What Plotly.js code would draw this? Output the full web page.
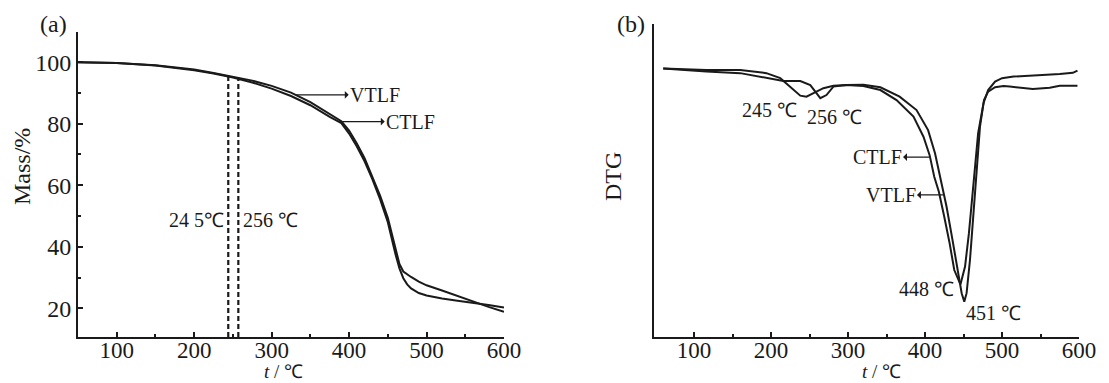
<!DOCTYPE html>
<html>
<head>
<meta charset="utf-8">
<script src="https://cdn.plot.ly/plotly-3.0.1.min.js"></script>
<style>html,body{margin:0;padding:0;background:#fff;}#chart{width:1109px;height:383px;}</style>
</head>
<body>
<div id="chart"></div>
<script>
// ---- Panel (a): TG curves ----
const tgTemp = [50, 100, 150, 200, 225, 250, 275, 300, 325, 350, 375, 390, 400, 410, 420, 430, 440, 450, 460, 465, 470, 475, 480, 490, 500, 520, 540, 560, 580, 600];
const tgVTLF = [100.0, 99.7, 99.0, 97.6, 96.5, 95.3, 94.0, 92.3, 90.1, 87.0, 83.3, 80.8, 77.8, 73.6, 68.8, 62.8, 56.6, 49.4, 39.2, 34.4, 32.0, 31.0, 30.2, 28.7, 27.5, 25.8, 24.0, 22.1, 20.5, 18.9];
const tgCTLF = [100.0, 99.7, 98.9, 97.4, 96.3, 95.0, 93.4, 91.4, 89.0, 86.0, 82.2, 80.2, 76.8, 72.6, 67.8, 62.0, 55.5, 48.0, 37.5, 33.0, 29.8, 27.8, 26.5, 25.0, 24.2, 23.2, 22.5, 21.9, 21.1, 20.3];
const dashTemp = [244, 257];
const dashTop = [95.6, 95.0];
const tgTicks = [100, 200, 300, 400, 500, 600];
const tgMinorTicks = [150, 250, 350, 450, 550];
const massTicks = [20, 40, 60, 80, 100];
const massMinorTicks = [30, 50, 70, 90];

// ---- Panel (b): DTG curves (arbitrary units) ----
const dtgTempCTLF = [60, 116, 160, 194, 212, 225, 238, 246, 255, 268, 281, 298, 320, 342, 363, 385, 398, 406, 412, 418, 425, 432, 438, 446, 452, 457, 463, 469, 476, 482, 491, 500, 515, 540, 558, 575, 592, 598];
const dtgCTLF = [85.8, 85.3, 85.3, 84.3, 82.7, 80.0, 77.1, 76.8, 77.9, 79.5, 80.3, 80.5, 80.2, 78.9, 75.7, 70.4, 64.0, 58.1, 51.2, 46.4, 38.4, 29.9, 21.4, 16.8, 22.5, 33.1, 49.1, 65.1, 74.7, 78.9, 81.6, 82.7, 83.2, 83.5, 83.7, 84.0, 84.4, 85.1];
const dtgTempVTLF = [60, 116, 160, 194, 216, 238, 251, 259, 264, 272, 281, 298, 320, 342, 367, 389, 404, 413, 424, 428, 435, 441, 447.6, 451, 454, 458.4, 462.7, 467, 471.4, 476.6, 482, 491, 502, 510, 525, 540, 562, 575, 598];
const dtgVTLF = [85.8, 84.8, 84.3, 82.7, 81.8, 81.8, 80.5, 77.9, 76.3, 77.3, 80.0, 80.5, 80.6, 79.8, 76.8, 72.5, 66.1, 58.7, 46.4, 41.6, 32.0, 23.5, 14.0, 11.3, 14.0, 24.6, 38.4, 54.4, 67.2, 75.7, 78.4, 79.8, 80.2, 80.0, 79.5, 79.2, 79.6, 80.3, 80.3];

const FONT = 'Liberation Serif, Times New Roman, serif';
const INK = '#1a1a1a';
const W = 1109, H = 383;
const px = v => v / W;
const py = v => 1 - v / H;

const line = {color: INK, width: 2};
const traces = [
  {x: tgTemp, y: tgVTLF, name: 'VTLF', mode: 'lines', line: line, xaxis: 'x', yaxis: 'y', hoverinfo: 'skip'},
  {x: tgTemp, y: tgCTLF, name: 'CTLF', mode: 'lines', line: line, xaxis: 'x', yaxis: 'y', hoverinfo: 'skip'}
];
dashTemp.forEach((t, i) => {
  traces.push({x: [t, t], y: [10.7, dashTop[i]], mode: 'lines', line: {color: INK, width: 2.2, dash: '5px,3px'}, xaxis: 'x', yaxis: 'y', hoverinfo: 'skip'});
});
traces.push({x: dtgTempCTLF, y: dtgCTLF, name: 'CTLF', mode: 'lines', line: line, xaxis: 'x2', yaxis: 'y2', hoverinfo: 'skip'});
traces.push({x: dtgTempVTLF, y: dtgVTLF, name: 'VTLF', mode: 'lines', line: line, xaxis: 'x2', yaxis: 'y2', hoverinfo: 'skip'});

const tickFont = {family: FONT, size: 23, color: INK};
const xBase = {
  tickmode: 'array', tickvals: tgTicks, ticks: 'inside', ticklen: 5, tickwidth: 2, tickcolor: INK,
  showline: true, linecolor: INK, linewidth: 2, showgrid: false, zeroline: false,
  tickfont: tickFont, ticklabelstandoff: -9,
  minor: {tickmode: 'array', tickvals: tgMinorTicks, ticks: 'inside', ticklen: 3, tickwidth: 2, tickcolor: INK, showgrid: false}
};

const lab = (text, x, y, xref, yref, opts) => Object.assign({text: text, x: x, y: y, xref: xref, yref: yref, showarrow: false, xanchor: 'center', yanchor: 'middle', font: {family: FONT, size: 20, color: INK}}, opts || {});

const arrowStyle = {showarrow: true, arrowside: 'start', arrowhead: 2, arrowsize: 1.1, arrowwidth: 1.3, arrowcolor: INK, borderpad: 0, yanchor: 'middle', font: {family: FONT, size: 20, color: INK}};

const annotations = [
  lab('(a)', px(53), py(24), 'paper', 'paper', {font: {family: FONT, size: 24, color: INK}}),
  lab('(b)', px(631), py(24), 'paper', 'paper', {font: {family: FONT, size: 24, color: INK}}),
  lab('Mass/%', px(22), py(167), 'paper', 'paper', {textangle: -90, font: {family: FONT, size: 24, color: INK}}),
  lab('DTG', px(613), py(177), 'paper', 'paper', {textangle: -90, font: {family: FONT, size: 24, color: INK}}),
  lab('<i>t</i> / ℃', px(283), py(383), 'paper', 'paper', {yanchor: 'bottom', borderpad: 0, font: {family: FONT, size: 19, color: INK}}),
  lab('<i>t</i> / ℃', px(881), py(383), 'paper', 'paper', {yanchor: 'bottom', borderpad: 0, font: {family: FONT, size: 19, color: INK}}),
  lab('24 5℃', 241, 48.8, 'x', 'y', {xanchor: 'right'}),
  lab('256 ℃', 261, 48.8, 'x', 'y', {xanchor: 'left'}),
  lab('245 ℃', 198.6, 72.5, 'x2', 'y2'),
  lab('256 ℃', 283, 70.3, 'x2', 'y2'),
  lab('448 ℃', 401.9, 15.3, 'x2', 'y2'),
  lab('451 ℃', 488.9, 7.7, 'x2', 'y2'),
  // arrows
  Object.assign({text: 'VTLF', x: 331.6, y: 89.4, ax: 399.5, ay: 89.4, xref: 'x', yref: 'y', axref: 'x', ayref: 'y', xanchor: 'left'}, arrowStyle),
  Object.assign({text: 'CTLF', x: 387.6, y: 80.7, ax: 446, ay: 80.7, xref: 'x', yref: 'y', axref: 'x', ayref: 'y', xanchor: 'left'}, arrowStyle),
  Object.assign({text: 'CTLF', x: 406, y: 57.5, ax: 371.5, ay: 57.5, xref: 'x2', yref: 'y2', axref: 'x2', ayref: 'y2', xanchor: 'right'}, arrowStyle),
  Object.assign({text: 'VTLF', x: 423.3, y: 45.4, ax: 389.6, ay: 45.4, xref: 'x2', yref: 'y2', axref: 'x2', ayref: 'y2', xanchor: 'right'}, arrowStyle)
];

const layout = {
  width: W, height: H,
  margin: {l: 0, r: 0, t: 0, b: 0},
  paper_bgcolor: '#ffffff', plot_bgcolor: 'rgba(0,0,0,0)',
  showlegend: false,
  font: {family: FONT, color: INK},
  xaxis: Object.assign({}, xBase, {domain: [px(78), px(504)], range: [50, 600], anchor: 'y'}),
  yaxis: {domain: [1 - 337 / H, 1 - 32 / H], range: [10.7, 109.8], anchor: 'x',
    tickmode: 'array', tickvals: massTicks, ticks: 'inside', ticklen: 5, tickwidth: 2, tickcolor: INK,
    showline: true, linecolor: INK, linewidth: 2, showgrid: false, zeroline: false,
    tickfont: {family: FONT, size: 24, color: INK}, ticklabelstandoff: 0,
    minor: {tickmode: 'array', tickvals: massMinorTicks, ticks: 'inside', ticklen: 3, tickwidth: 2, tickcolor: INK, showgrid: false}},
  xaxis2: Object.assign({}, xBase, {domain: [px(654), px(1079)], range: [48, 600], anchor: 'y2'}),
  yaxis2: {domain: [1 - 337 / H, 1 - 24 / H], range: [0, 100], anchor: 'x2',
    showline: true, linecolor: INK, linewidth: 2, showgrid: false, zeroline: false,
    ticks: '', showticklabels: false},
  annotations: annotations
};

Plotly.newPlot('chart', traces, layout, {displayModeBar: false, staticPlot: true});
</script>
</body>
</html>
